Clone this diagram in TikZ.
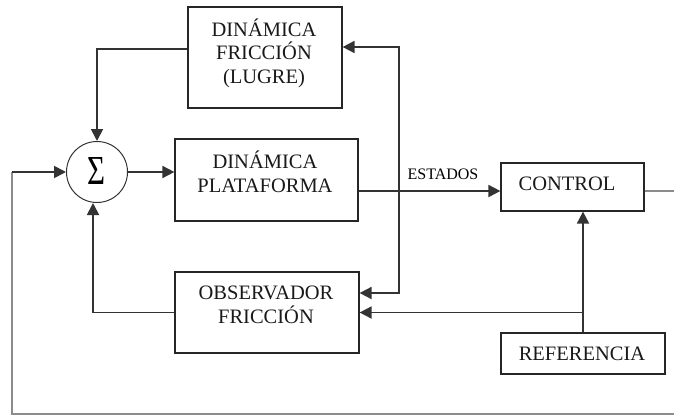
\documentclass[tikz,border=0pt]{standalone}
\usepackage{fontspec}
\setmainfont{Liberation Serif}
\usetikzlibrary{arrows.meta,calc}
\begin{document}
\begin{tikzpicture}[x=1pt,y=-1pt,
  box/.style={draw=black!85,line width=1.2pt,inner sep=0pt,fill=none},
  txt/.style={font=\fontsize{20.5}{23.5}\selectfont,align=center,inner sep=0pt,text=black!90},
  ln/.style={draw=black!80,line width=1.8pt},
  gln/.style={draw=black!45,line width=1.8pt},
  arr/.style={ln,-{Triangle[length=12pt,width=12pt]}}]
\useasboundingbox (0,0) rectangle (674,415);
% boxes
\node[box,minimum width=154pt,minimum height=101pt] (df) at (265,57.5) {};
\node[txt] (dft) at (264,53) {DINÁMICA\\FRICCIÓN\\(LUGRE)};
\node[box,minimum width=183pt,minimum height=82pt] (plat) at (266.5,180) {};
\node[txt] (platt) at (265,172) {DINÁMICA\\PLATAFORMA};
\node[box,minimum width=184pt,minimum height=81pt] (obs) at (267,312.5) {};
\node[txt] (obst) at (266,305) {OBSERVADOR\\FRICCIÓN};
\node[box,minimum width=143pt,minimum height=48pt] (ctrl) at (572.5,187) {};
\node[txt] (ctrlt) at (567,184) {CONTROL};
\node[box,minimum width=164pt,minimum height=41pt] (ref) at (583,353.5) {};
\node[txt] (reft) at (582,354) {REFERENCIA};
\node[draw=black!80,line width=1pt,circle,minimum size=61pt,inner sep=0pt] (sum) at (97,172) {};
\node[inner sep=0pt] (sig) at (96,171) {\resizebox{18pt}{27pt}{Σ}};
\node[font=\fontsize{16}{18}\selectfont,inner sep=0pt] (est) at (443,174) {ESTADOS};
% coordinates
\coordinate (j) at (399,191);
\coordinate (outR) at (674,191);
\coordinate (outB) at (674,414);
\coordinate (lb) at (12,414);
\coordinate (lt) at (12,172);
% connectors
\draw[arr] ([yshift=8.5pt]df.west) -| (sum.north);
\draw[arr] (sum.east) -- (sum.east -| plat.west);
\draw[ln] ([yshift=-11pt]plat.east) -- (j);
\draw[arr] (j) -- (j -| ctrl.west);
\draw[arr] (j) |- ([yshift=10.5pt]df.east);
\draw[arr] (j) |- ([yshift=19.5pt]obs.east);
\draw[arr] (ref.north) -- (ref.north |- ctrl.south);
\draw[arr] (ref.north |- obs.east) -- (obs.east);
\draw[arr] (obs.west) -| ([xshift=-4pt]sum.south);
\draw[gln] ([yshift=-4pt]ctrl.east) -- (outR);
\draw[gln] (outB) -- (lb) -- (lt);
\draw[arr] (lt) -- (sum.west);
\end{tikzpicture}
\end{document}
